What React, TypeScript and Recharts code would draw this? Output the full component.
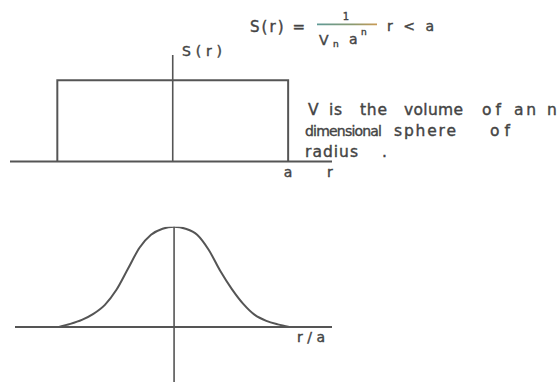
import React from 'react';
import { LineChart, Line, XAxis, YAxis, ReferenceLine } from 'recharts';

// Uniform density S(r) inside a sphere of radius a
const rectR = [-1, -1, 1, 1];
const rectS = [0, 1, 1, 0];
const topTicks = [1];
const topTickLabels = ['a'];

// Smoothed density against r/a
const bellR = [-1.0, -0.9, -0.8, -0.7, -0.6, -0.5, -0.4, -0.3, -0.2, -0.1, 0, 0.1, 0.2, 0.3, 0.4, 0.5, 0.6, 0.7, 0.8, 0.9, 1.0];
const bellS = [0.0, 0.03, 0.07, 0.13, 0.22, 0.37, 0.58, 0.79, 0.92, 0.98, 1.0, 0.98, 0.92, 0.77, 0.56, 0.38, 0.23, 0.12, 0.06, 0.025, 0.0];

const rectData = rectR.map((r, i) => ({ r, s: rectS[i] }));
const bellData = bellR.map((r, i) => ({ r, s: bellS[i] }));

const INK = '#555';
const TEXT = '#444';
const FONT = '"DejaVu Sans", sans-serif';

// Typeset word: text, left edge, right edge, baseline
type Word = [string, number, number, number];
const note: Word[] = [
  ['V', 308, 319, 115],
  ['is', 329, 342, 115],
  ['the', 360, 387, 115],
  ['volume', 404, 463, 115],
  ['of', 482, 501, 115],
  ['an', 514, 536, 115],
  ['n', 547, 558, 115],
  ['sphere', 394, 456, 136],
  ['of', 490, 510, 136],
  ['radius', 305, 358, 157],
];

function Words({ words }: { words: Word[] }) {
  return (
    <>
      {words.map(([t, x0, x1, y], i) => (
        <text key={i} x={x0} y={y} fontSize={15.5} textLength={x1 - x0} lengthAdjust="spacing">
          {t}
        </text>
      ))}
    </>
  );
}

export default function App() {
  return (
    <div style={{ position: 'absolute', left: 0, top: 0, width: 560, height: 382, background: '#fff', overflow: 'hidden' }}>
      <div style={{ position: 'absolute', left: 0, top: 0 }}>
        <LineChart width={560} height={200} data={rectData} margin={{ top: 55, left: 10, right: 228, bottom: 8.5 }}>
          <XAxis
            dataKey="r"
            type="number"
            domain={[-1.41, 1.38]}
            allowDataOverflow
            ticks={topTicks}
            tickFormatter={(v: number) => topTickLabels[topTicks.indexOf(v)]}
            tickLine={false}
            tickMargin={0}
            axisLine={{ stroke: INK, strokeWidth: 2 }}
            tick={{ fill: TEXT, stroke: TEXT, strokeWidth: 0.4, fontSize: 14, fontFamily: FONT }}
          />
          <YAxis hide domain={[0, 1.31]} allowDataOverflow />
          <ReferenceLine x={0} stroke={INK} strokeWidth={1.6} />
          <Line dataKey="s" type="linear" stroke={INK} strokeWidth={2} dot={false} isAnimationActive={false} />
        </LineChart>
      </div>
      <div style={{ position: 'absolute', left: 0, top: 0 }}>
        <LineChart width={560} height={382} data={bellData} margin={{ top: 226.7, left: 15, right: 228, bottom: 0 }}>
          <XAxis dataKey="r" type="number" domain={[-1.38, 1.37]} allowDataOverflow hide />
          <YAxis hide domain={[-0.55, 1]} allowDataOverflow />
          <ReferenceLine y={0} stroke={INK} strokeWidth={2} />
          <ReferenceLine x={0} stroke={INK} strokeWidth={1.6} />
          <Line dataKey="s" type="monotone" stroke={INK} strokeWidth={2} dot={false} isAnimationActive={false} />
        </LineChart>
      </div>
      <svg width={560} height={382} style={{ position: 'absolute', left: 0, top: 0, pointerEvents: 'none' }}>
        <defs>
          <linearGradient id="bar" gradientUnits="userSpaceOnUse" x1={317} x2={377} y1={0} y2={0}>
            <stop offset="0" stopColor="#5f9a96" />
            <stop offset="0.6" stopColor="#8a9a70" />
            <stop offset="1" stopColor="#c99a55" />
          </linearGradient>
        </defs>
        <g fill={TEXT} stroke={TEXT} strokeWidth={0.4} fontFamily={FONT}>
          {/* formula */}
          <text x={250} y={31.5} fontSize={15} textLength={55} lengthAdjust="spacing">S(r) =</text>
          <text x={346} y={20} fontSize={10} textAnchor="middle">1</text>
          <line x1={317} x2={377} y1={24.3} y2={24.3} stroke="url(#bar)" strokeWidth={1.8} />
          <text x={319} y={45} fontSize={14}>V</text>
          <text x={333} y={47} fontSize={9}>n</text>
          <text x={349} y={44} fontSize={14}>a</text>
          <text x={361} y={35} fontSize={9}>n</text>
          <text x={387} y={31} fontSize={14} textLength={47} lengthAdjust="spacing">r &lt; a</text>

          {/* axis names */}
          <text x={182} y={56} fontSize={14} textLength={40} lengthAdjust="spacing">S(r)</text>
          <text x={330} y={177} fontSize={14} textAnchor="middle">r</text>
          <text x={297} y={342} fontSize={14} textLength={28} lengthAdjust="spacing">r/a</text>

          {/* note */}
          <Words words={note} />
          <text x={305} y={136} fontSize={14} letterSpacing={-0.8}>dimensional</text>
          <text x={382} y={157} fontSize={15.5}>.</text>
        </g>
      </svg>
    </div>
  );
}
